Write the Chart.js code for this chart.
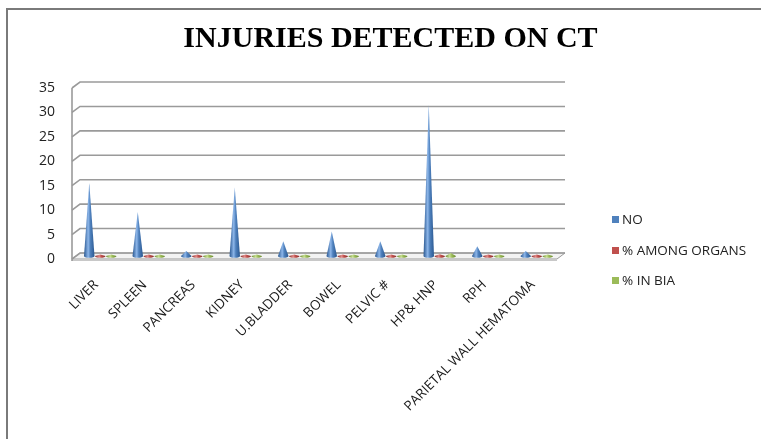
<!DOCTYPE html>
<html>
<head>
<meta charset="utf-8">
<script src="https://cdn.jsdelivr.net/npm/chart.js@4"></script>
<style>
  html, body { margin: 0; padding: 0; background: #fff; }
  #wrap { position: relative; width: 761px; height: 439px; overflow: hidden; }
  #frame { position: absolute; left: 6px; top: 8px; right: -10px; bottom: -10px;
    border-left: 2px solid #7a7a7a; border-top: 2px solid #7a7a7a; }
  canvas { position: absolute; left: 0; top: 0; }
  #legend { position: absolute; left: 612px; top: 210px; font: 13.5px 'Open Sans', 'Noto Sans', sans-serif; color: #222; }
  #legend div { height: 30.5px; line-height: 18px; white-space: nowrap; }
  #legend span { display: inline-block; width: 7px; height: 7px; margin-right: 3px; vertical-align: 1px; }
</style>
</head>
<body>
<div id="wrap">
  <canvas id="chart" width="761" height="439"></canvas>
  <div id="frame"></div>
  <div id="legend"></div>
</div>
<script>
// organs on the x axis
const categories = ['LIVER', 'SPLEEN', 'PANCREAS', 'KIDNEY', 'U.BLADDER', 'BOWEL', 'PELVIC #', 'HP& HNP', 'RPH', 'PARIETAL WALL HEMATOMA']

// series
const noValues = [15, 9, 1, 14, 3, 5, 3, 31, 2, 1]
const amongOrgans = [0.18, 0.11, 0.01, 0.17, 0.04, 0.06, 0.04, 0.37, 0.02, 0.01]
const inBia = [0.15, 0.09, 0.01, 0.14, 0.03, 0.05, 0.03, 0.6, 0.02, 0.01]

const seriesNames = ['NO', '% AMONG ORGANS', '% IN BIA']
const yTicks = [0, 5, 10, 15, 20, 25, 30, 35]

// colour triples: base, dark edge, highlight
const palette = [
  ['#4F81BD', '#2A5891', '#8DB6E9'],
  ['#C0504D', '#8A2C29', '#E38D8A'],
  ['#9BBB59', '#6A8A2E', '#C8E093']
]

// depth of the fake 3d box
const DX = 8
const DY = 6

function drawCone(ctx, cx, tipY, baseY, w, cols) {
  const rx = w / 2
  const ry = 1.8
  const g = ctx.createLinearGradient(cx - rx, 0, cx + rx, 0)
  g.addColorStop(0, cols[1])
  g.addColorStop(0.4, cols[2])
  g.addColorStop(0.6, cols[0])
  g.addColorStop(1, cols[1])
  ctx.fillStyle = g
  ctx.beginPath()
  ctx.moveTo(cx - rx, baseY)
  ctx.lineTo(cx, Math.min(tipY, baseY - 1.5))
  ctx.lineTo(cx + rx, baseY)
  ctx.ellipse(cx, baseY, rx, ry, 0, 0, Math.PI)
  ctx.closePath()
  ctx.fill()
}

const box3d = {
  id: 'box3d',
  beforeDatasetsDraw(chart) {
    const ctx = chart.ctx
    const a = chart.chartArea
    const y = chart.scales.y
    ctx.save()
    // floor
    const b = y.getPixelForValue(0)
    ctx.fillStyle = '#f3f3f3'
    ctx.strokeStyle = '#9a9a9a'
    ctx.lineWidth = 1
    ctx.beginPath()
    ctx.moveTo(a.left, b)
    ctx.lineTo(a.right, b)
    ctx.lineTo(a.right + DX, b - DY)
    ctx.lineTo(a.left + DX, b - DY)
    ctx.closePath()
    ctx.fill()
    ctx.stroke()
    ctx.fillStyle = '#c8c8c8'
    ctx.fillRect(a.left, b, a.right - a.left, 2)
    // grid lines on the left and back walls
    ctx.strokeStyle = '#9a9a9a'
    ctx.lineWidth = 1.6
    y.ticks.forEach(t => {
      const py = y.getPixelForValue(t.value)
      ctx.beginPath()
      ctx.moveTo(a.left, py)
      ctx.lineTo(a.left + DX, py - DY)
      ctx.lineTo(a.right + DX, py - DY)
      ctx.stroke()
    })
    ctx.beginPath()
    ctx.moveTo(a.left, y.getPixelForValue(35))
    ctx.lineTo(a.left, b + 2)
    ctx.stroke()
    ctx.restore()
  },
  beforeDatasetDraw(chart, args) {
    const ctx = chart.ctx
    const cols = palette[args.index]
    ctx.save()
    args.meta.data.forEach(el => {
      drawCone(ctx, el.x + DX / 2, el.y - DY / 2, el.base - DY / 2, el.width * 0.95, cols)
    })
    ctx.restore()
    return false
  }
}

const font = "'Open Sans', 'Noto Sans', sans-serif"

// legend as plain html, same names and colours as the datasets
const legendBox = document.getElementById('legend')
seriesNames.forEach((name, i) => {
  const row = document.createElement('div')
  const sw = document.createElement('span')
  sw.style.background = palette[i][0]
  row.appendChild(sw)
  row.appendChild(document.createTextNode(name))
  legendBox.appendChild(row)
})

new Chart(document.getElementById('chart'), {
  type: 'bar',
  data: {
    labels: categories,
    datasets: [noValues, amongOrgans, inBia].map((d, i) => ({
      label: seriesNames[i],
      data: d,
      backgroundColor: palette[i][0],
      borderWidth: 0
    }))
  },
  options: {
    responsive: false,
    animation: false,
    layout: { padding: { left: 20, right: 0, top: 0, bottom: 0 } },
    datasets: { bar: { categoryPercentage: 0.68, barPercentage: 1 } },
    plugins: {
      title: {
        display: true,
        text: 'INJURIES DETECTED ON CT',
        color: '#000',
        font: { family: "'Liberation Serif', 'Times New Roman', serif", size: 30, weight: 'bold' },
        padding: { top: 21, bottom: 31 }
      },
      legend: { display: false },
      tooltip: { enabled: false }
    },
    scales: {
      x: {
        grid: { display: false },
        border: { display: false },
        ticks: { color: '#1a1a1a', font: { family: font, size: 13.5 }, maxRotation: 45, minRotation: 45, padding: 10 },
        afterFit: s => { s.height = 180 }
      },
      y: {
        min: 0,
        max: 35,
        afterBuildTicks: s => { s.ticks = yTicks.map(v => ({ value: v })) },
        grid: { display: false },
        border: { display: false },
        ticks: { color: '#222', font: { family: font, size: 14 }, padding: 9 },
        afterFit: s => { s.width = 52 }
      },
      spacer: {
        type: 'linear',
        position: 'right',
        grid: { display: false },
        border: { display: false },
        ticks: { display: false },
        afterFit: s => { s.width = 204 }
      }
    }
  },
  plugins: [box3d]
})
</script>
</body>
</html>
